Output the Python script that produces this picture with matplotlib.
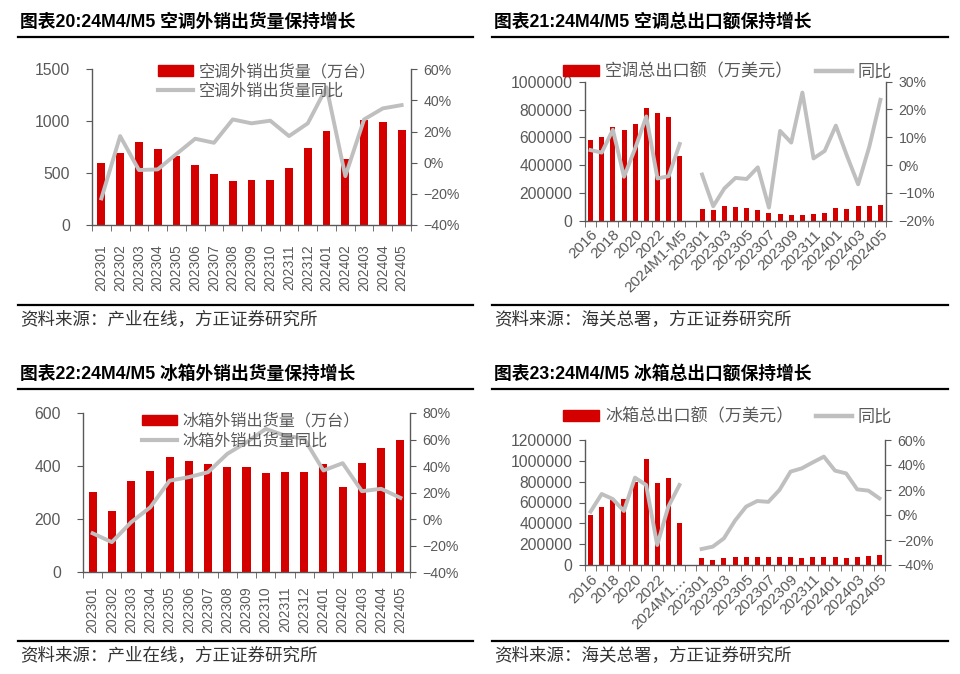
import numpy as np
import matplotlib.pyplot as plt
from matplotlib.lines import Line2D
from matplotlib.patches import Patch

plt.rcParams['font.family'] = ['Liberation Sans', 'Noto Sans CJK SC', 'DejaVu Sans']

RED = '#D40000'
GRAY = '#BFBFBF'
TXT = '#595959'
nan = np.nan

months = ['202301', '202302', '202303', '202304', '202305', '202306', '202307', '202308', '202309',
          '202310', '202311', '202312', '202401', '202402', '202403', '202404', '202405']
years = ['2016', '2017', '2018', '2019', '2020', '2021', '2022', '2023', '2024M1-M5']
mixed = years + [''] + months

# 图表20 空调外销出货量
ac_ship = [600, 690, 800, 735, 668, 581, 491, 424, 434, 430, 549, 739, 903, 633, 1012, 989, 915]
ac_ship_yoy = [-22.9, 17.1, -4.7, -4.3, 5.6, 15.4, 12.8, 27.8, 25.3, 27.0, 17.1, 25.3, 48.4, -8.6, 27.8, 34.9, 37.0]

# 图表22 冰箱外销出货量
fr_ship = [302, 230, 344, 383, 433, 418, 407, 398, 397, 375, 377, 377, 409, 321, 413, 467, 497]
fr_ship_yoy = [-10.6, -17.3, -2.3, 9.0, 29.0, 31.7, 35.4, 49.2, 58.0, 68.0, 63.0, 60.6, 36.7, 42.2, 21.1, 22.9, 16.1]

# 图表21 空调总出口额
ac_exp = [580000, 604000, 676000, 652000, 693000, 813000, 772000, 743000, 465000, nan,
          82000, 79000, 108000, 100000, 94000, 74000, 58000, 48000, 43000, 38000, 48000, 58000,
          94000, 84000, 103000, 108000, 115000]
ac_exp_yoy = [5.4, 4.5, 12.7, -4.2, 6.0, 17.5, -4.8, -4.0, 7.6, nan,
              -3.4, -14.8, -8.4, -4.6, -5.0, -0.8, -15.3, 12.3, 8.1, 26.1, 2.4, 5.1,
              14.2, 3.3, -6.9, 6.6, 23.5]

# 图表23 冰箱总出口额
fr_exp = [480000, 557000, 624000, 637000, 800000, 1014000, 784000, 838000, 400000, nan,
          64000, 48000, 70000, 77000, 80000, 77000, 77000, 77000, 77000, 72000, 77000, 75000,
          80000, 67000, 80000, 86000, 96000]
fr_exp_yoy = [2.7, 16.8, 12.8, 3.2, 29.9, 24.0, -24.0, 6.7, 24.0, nan,
              -27.2, -25.3, -18.7, -4.5, 6.7, 11.2, 10.5, 20.0, 34.7, 37.3, 42.1, 46.7,
              35.5, 33.3, 20.5, 19.5, 13.3]

fig = plt.figure(figsize=(9.6, 6.74), dpi=100)


def px(x, y):
    return x / 960, 1 - y / 674


def frame(x0, x1, ytitle, yline, yfoot, yfoot_txt, title, source):
    fig.text(*px(x0 + 2, ytitle), title, fontsize=12.8, fontweight='bold', color='black', va='center')
    for yy in (yline, yfoot):
        fig.add_artist(Line2D([x0 / 960, x1 / 960], [1 - yy / 674] * 2, color='black', lw=1.6))
    fig.text(*px(x0 + 2, yfoot_txt), source, fontsize=12.6, style='italic', color='#333333', va='center')


def num_fmt(v):
    return ('−' if v < 0 else '') + '%d%%' % abs(v)


def style(ax, ax2, n, yl, yticks, yr, rticks, lfs, lpad):
    ax.set_xlim(-0.5, n - 0.5)
    ax.set_ylim(*yl)
    ax.set_yticks(yticks)
    ax.set_yticklabels([str(v) for v in yticks])
    ax2.set_ylim(*yr)
    ax2.set_yticks(rticks)
    ax2.set_yticklabels([num_fmt(v) for v in rticks])
    for a in (ax, ax2):
        a.spines['top'].set_visible(False)
        for s in a.spines.values():
            s.set_color(TXT)
            s.set_linewidth(1.0)
    ax.spines['right'].set_visible(False)
    ax2.spines['left'].set_visible(False)
    ax2.spines['bottom'].set_visible(False)
    ax.set_xticks(np.arange(-0.5, n, 1), minor=True)
    ax.tick_params(axis='x', which='minor', length=4, color=TXT, direction='out')
    ax.tick_params(axis='x', which='major', length=0, labelcolor=TXT)
    ax.tick_params(axis='y', length=4, color=TXT, labelcolor=TXT, labelsize=lfs, pad=lpad)
    ax2.tick_params(axis='y', length=4, color=TXT, labelcolor=TXT, labelsize=10.2, pad=5)


leg_kw = dict(frameon=False, labelcolor=TXT, handleheight=0.6, handletextpad=0.35)

# ---------- 图表20 ----------
frame(18, 473, 22, 37, 305, 319, '图表20:24M4/M5 空调外销出货量保持增长', '资料来源：产业在线，方正证券研究所')
ax = fig.add_axes([92 / 960, 1 - 225 / 674, 319 / 960, 155.7 / 674])
ax2 = ax.twinx()
x = np.arange(len(months))
ax.bar(x, ac_ship, width=0.42, color=RED, zorder=2)
ax2.plot(x, ac_ship_yoy, color=GRAY, lw=2.8)
style(ax, ax2, len(months), (0, 1500), [0, 500, 1000, 1500], (-40, 60), [-40, -20, 0, 20, 40, 60], 11.3, 12)
ax.set_xticks(x)
ax.set_xticklabels(months, rotation=90, fontsize=10)
ax.tick_params(axis='x', which='major', pad=14)
ax2.legend([Patch(color=RED), Line2D([], [], color=GRAY, lw=3)],
           ['空调外销出货量（万台）', '空调外销出货量同比'],
           loc='upper left', bbox_to_anchor=(0.16, 1.13), fontsize=11.6,
           handlelength=2.2, labelspacing=0.25, **leg_kw)

# ---------- 图表22 ----------
frame(18, 473, 374, 389, 641, 655, '图表22:24M4/M5 冰箱外销出货量保持增长', '资料来源：产业在线，方正证券研究所')
ax = fig.add_axes([83 / 960, 1 - 572.3 / 674, 327 / 960, 159.3 / 674])
ax2 = ax.twinx()
ax.bar(x, fr_ship, width=0.42, color=RED, zorder=2)
ax2.plot(x, fr_ship_yoy, color=GRAY, lw=2.8)
style(ax, ax2, len(months), (0, 600), [0, 200, 400, 600], (-40, 80), [-40, -20, 0, 20, 40, 60, 80], 11.3, 12)
ax.set_xticks(x)
ax.set_xticklabels(months, rotation=90, fontsize=10)
ax.tick_params(axis='x', which='major', pad=10)
ax2.legend([Patch(color=RED), Line2D([], [], color=GRAY, lw=3)],
           ['冰箱外销出货量（万台）', '冰箱外销出货量同比'],
           loc='upper left', bbox_to_anchor=(0.135, 1.09), fontsize=11.6,
           handlelength=2.2, labelspacing=0.25, **leg_kw)


def export_panel(rect, vals, yoy, yl, yticks, yr, rticks, tick_names, leg_label, leg_y):
    ax = fig.add_axes(rect)
    ax2 = ax.twinx()
    xx = np.arange(len(mixed))
    ax.bar(xx, vals, width=0.45, color=RED, zorder=2)
    ax2.plot(xx, yoy, color=GRAY, lw=2.8)
    style(ax, ax2, len(mixed), yl, yticks, yr, rticks, 11.3, 5)
    ax.set_xticks(xx[::2])
    ax.set_xticklabels(tick_names[::2], rotation=45, ha='right', va='top',
                       rotation_mode='anchor', fontsize=11)
    ax.tick_params(axis='x', which='major', pad=5)
    fig.legend([Patch(color=RED), Line2D([], [], color=GRAY, lw=3.2)],
               [leg_label, '同比'], ncol=2, loc='center left',
               bbox_to_anchor=(548 / 960, 1 - leg_y / 674), fontsize=12.3,
               handlelength=2.1, columnspacing=1.3, **leg_kw)


# ---------- 图表21 ----------
frame(492, 948, 22, 37, 305, 319, '图表21:24M4/M5 空调总出口额保持增长', '资料来源：海关总署，方正证券研究所')
export_panel([585 / 960, 1 - 220.7 / 674, 301 / 960, 139 / 674], ac_exp, ac_exp_yoy,
             (0, 1000000), [0, 200000, 400000, 600000, 800000, 1000000],
             (-20, 30), [-20, -10, 0, 10, 20, 30], mixed, '空调总出口额（万美元）', 71)

# ---------- 图表23 ----------
frame(492, 948, 374, 389, 641, 655, '图表23:24M4/M5 冰箱总出口额保持增长', '资料来源：海关总署，方正证券研究所')
names23 = years[:-1] + ['2024M1…', ''] + months
export_panel([585 / 960, 1 - 565 / 674, 300 / 960, 125 / 674], fr_exp, fr_exp_yoy,
             (0, 1200000), [0, 200000, 400000, 600000, 800000, 1000000, 1200000],
             (-40, 60), [-40, -20, 0, 20, 40, 60], names23, '冰箱总出口额（万美元）', 416)

fig.savefig('out.png', dpi=100)
